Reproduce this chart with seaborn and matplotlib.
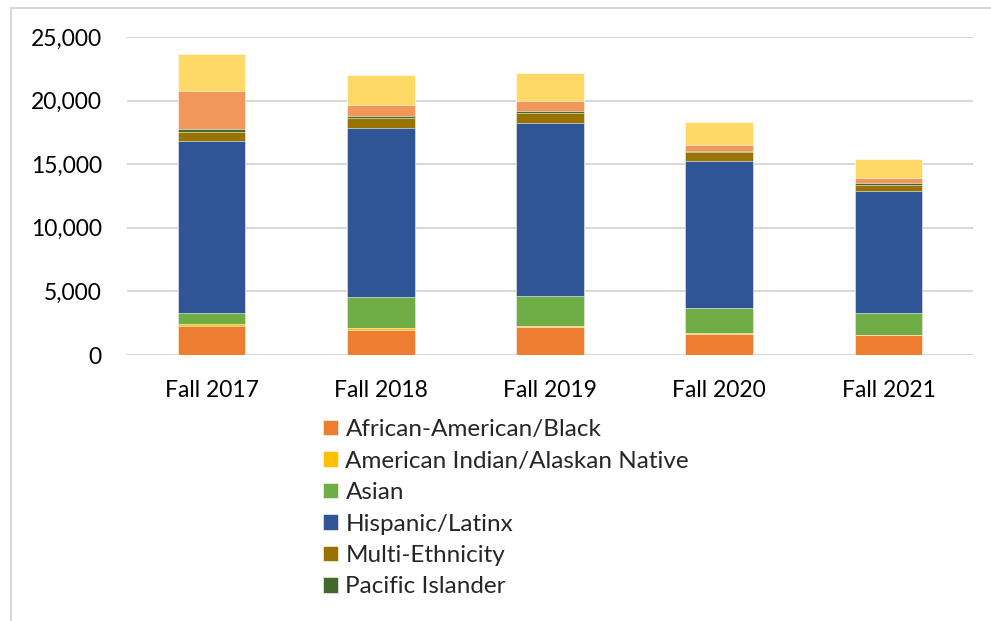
import pandas as pd
import seaborn as sns
import matplotlib.pyplot as plt
from matplotlib.patches import Patch
from matplotlib.lines import Line2D
from matplotlib.ticker import FuncFormatter

# Enrollment by ethnicity
terms = ["Fall 2017", "Fall 2018", "Fall 2019", "Fall 2020", "Fall 2021"]
african_american = [2300, 1990, 2170, 1680, 1550]
american_indian = [140, 130, 130, 20, 20]
asian = [860, 2410, 2310, 1960, 1730]
hispanic = [13550, 13290, 13630, 11560, 9560]
multi_ethnicity = [660, 790, 760, 710, 520]
pacific_islander = [260, 180, 180, 100, 140]
unknown = [2980, 840, 820, 520, 360]
white = [2910, 2380, 2140, 1790, 1520]

groups = ["African-American/Black", "American Indian/Alaskan Native", "Asian",
          "Hispanic/Latinx", "Multi-Ethnicity", "Pacific Islander", "Unknown", "White"]
colors = ["#ED7D31", "#FFC000", "#70AD47", "#2F5597", "#997300", "#43682B",
          "#F1975A", "#FFD966"]
shown_in_legend = 6

df = pd.DataFrame({
    "term": terms,
    groups[0]: african_american,
    groups[1]: american_indian,
    groups[2]: asian,
    groups[3]: hispanic,
    groups[4]: multi_ethnicity,
    groups[5]: pacific_islander,
    groups[6]: unknown,
    groups[7]: white,
})

# cumulative totals so each layer can be drawn over the taller one
cum = df[groups].cumsum(axis=1)
cum["term"] = df["term"]

sns.set_style("white")
plt.rcParams["font.family"] = ["Lato", "DejaVu Sans"]

fig = plt.figure(figsize=(9.91, 6.21), dpi=100)
ax = fig.add_axes([0.128, 0.4283, 0.854, 0.5121])

for g, c in reversed(list(zip(groups, colors))):
    sns.barplot(data=cum, x="term", y=g, color=c, width=0.4, ax=ax,
                edgecolor="white", linewidth=0.4, saturation=1, zorder=3)

ax.set_ylim(0, 25000)
ax.set_xlim(-0.5, 4.5)
ax.set_yticks(range(0, 25001, 5000))
ax.yaxis.set_major_formatter(FuncFormatter(lambda v, p: f"{int(v):,}"))
ax.grid(axis="y", color="#D9D9D9", linewidth=1.5, zorder=0)
ax.set_axisbelow(True)
for s in ax.spines.values():
    s.set_visible(False)
ax.tick_params(axis="both", length=0, labelsize=16.5, colors="#000000")
ax.tick_params(axis="y", pad=18)
ax.tick_params(axis="x", pad=18)
ax.set_xlabel("")
ax.set_ylabel("")

handles = [Patch(facecolor=c, edgecolor="white", linewidth=0.4, label=g)
           for g, c in zip(groups[:shown_in_legend], colors[:shown_in_legend])]
fig.legend(handles=handles, loc="upper left", bbox_to_anchor=(0.326, 0.325),
           frameon=False, fontsize=17.5, handlelength=0.62, handleheight=0.62,
           handletextpad=0.3, labelspacing=0.43, borderpad=0, borderaxespad=0)

# thin frame on the left and top like the source screenshot
fig.add_artist(Line2D([0.011, 0.011], [0, 0.987], color="#D9D9D9", linewidth=1.5))
fig.add_artist(Line2D([0.011, 1.0], [0.987, 0.987], color="#D9D9D9", linewidth=1.5))

fig.savefig("out.png", dpi=100)
